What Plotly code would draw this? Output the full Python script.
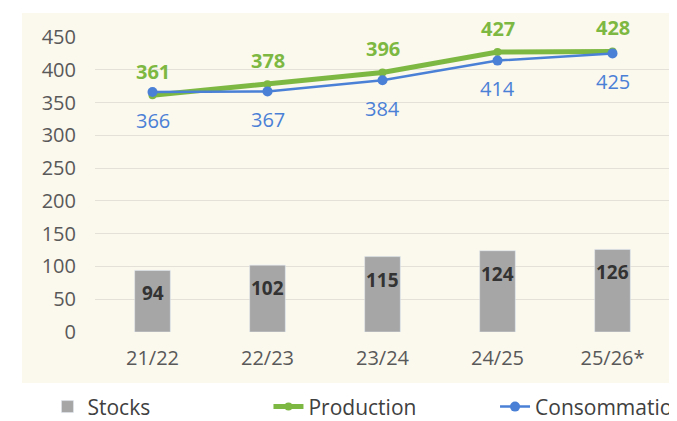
import plotly.graph_objects as go

categories = ["21/22", "22/23", "23/24", "24/25", "25/26*"]
stocks = [94, 102, 115, 124, 126]
production = [361, 378, 396, 427, 428]
consommation = [366, 367, 384, 414, 425]
y_ticks = [0, 50, 100, 150, 200, 250, 300, 350, 400, 450]

GREEN = "#7DB843"
BLUE = "#4A80D6"
GRAY = "#A6A6A6"
FONT = "Open Sans"

fig = go.Figure()
fig.add_trace(go.Bar(
    x=categories, y=stocks, name="Stocks", marker_color=GRAY,
    width=0.31, legend="legend",
))
fig.add_trace(go.Scatter(
    x=categories, y=production, name="Production", mode="lines+markers",
    line=dict(color=GREEN, width=5), marker=dict(size=8, color=GREEN),
    legend="legend",
))
fig.add_trace(go.Scatter(
    x=categories, y=consommation, name="Consommation", mode="lines+markers",
    line=dict(color=BLUE, width=2.5), marker=dict(size=10, color=BLUE),
    legend="legend2",
))

annotations = []
for c, v in zip(categories, stocks):
    annotations.append(dict(x=c, y=v, text=str(v), showarrow=False, yshift=-23,
                            font=dict(family=FONT, size=19, color="#333333", weight=700)))
for c, v in zip(categories, production):
    annotations.append(dict(x=c, y=v, text=str(v), showarrow=False, yshift=24,
                            font=dict(family=FONT, size=20, color=GREEN, weight=700)))
for c, v in zip(categories, consommation):
    annotations.append(dict(x=c, y=v, text=str(v), showarrow=False, yshift=-28,
                            font=dict(family=FONT, size=20, color=BLUE, weight=500)))

# the page places the figure 8 px from the window's top-left corner
fig.update_layout(
    width=669, height=413,
    margin=dict(l=87, r=7, t=29, b=89),
    paper_bgcolor="white",
    plot_bgcolor="rgba(0,0,0,0)",
    font=dict(family=FONT, size=20, color="#595959"),
    annotations=annotations,
    shapes=[dict(type="rect", xref="paper", yref="paper",
                 x0=-0.127, x1=1.0035, y0=-0.173, y1=1.081,
                 fillcolor="#FBF8EE", line=dict(width=0), layer="below")],
    xaxis=dict(type="category", range=[-0.5, 4.5], showgrid=False, zeroline=False,
               showline=False, ticks="", ticklabelstandoff=12,
               tickfont=dict(family=FONT, size=20, color="#595959")),
    yaxis=dict(range=[0, 450], tickvals=y_ticks, showgrid=True,
               gridcolor="#E4E1D9", gridwidth=1, zeroline=False, showline=False,
               ticks="", ticklabelstandoff=18,
               tickfont=dict(family=FONT, size=20, color="#595959")),
    legend=dict(orientation="h", xref="container", yref="container",
                x=0.059, xanchor="left", y=0.034, yanchor="middle",
                entrywidth=176, bgcolor="rgba(0,0,0,0)",
                font=dict(family=FONT, size=21, color="#404040")),
    legend2=dict(orientation="h", xref="container", yref="container",
                 x=0.728, xanchor="left", y=0.034, yanchor="middle",
                 bgcolor="rgba(0,0,0,0)",
                 font=dict(family=FONT, size=21, color="#404040")),
    showlegend=True,
)

fig.write_html("out.html")
